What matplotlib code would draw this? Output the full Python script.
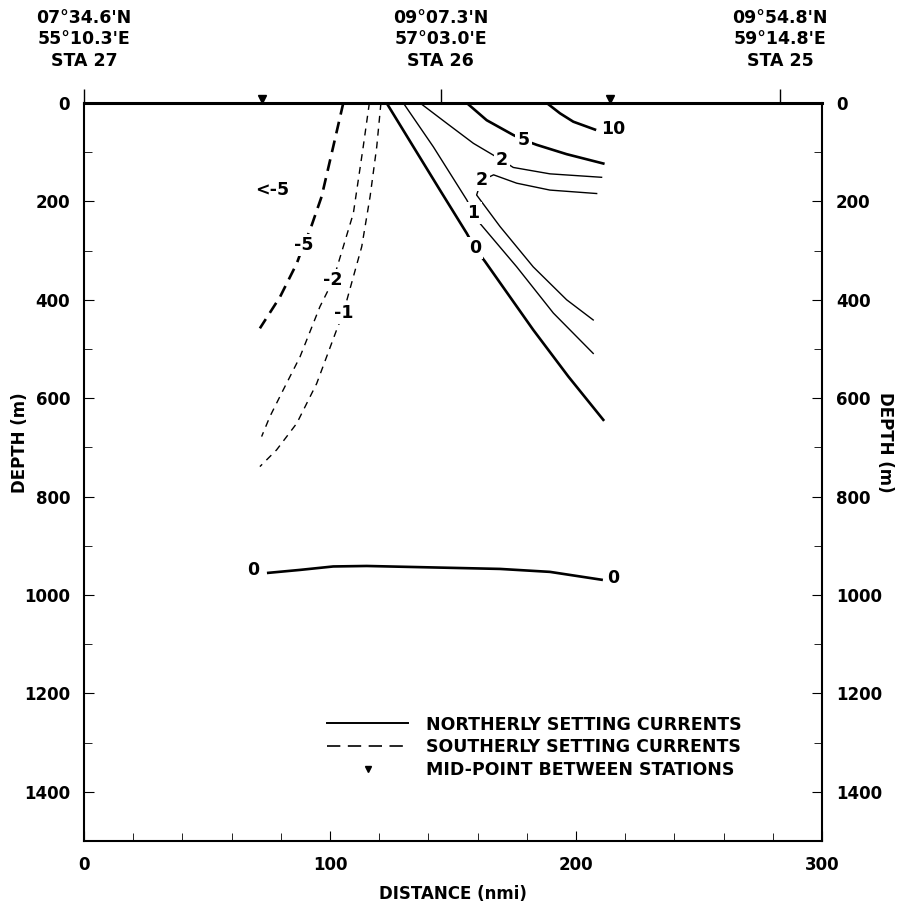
import numpy as np
import matplotlib
matplotlib.use('Agg')
import matplotlib.pyplot as plt
from matplotlib.lines import Line2D
import matplotlib.transforms as mtransforms

plt.rcParams['font.family'] = ['DejaVu Sans']
plt.rcParams['font.weight'] = 'bold'

# station positions (nmi) and header text
sta_dist = [0, 145, 283]
sta_labels = ["07°34.6'N\n55°10.3'E\nSTA 27",
              "09°07.3'N\n57°03.0'E\nSTA 26",
              "09°54.8'N\n59°14.8'E\nSTA 25"]

# northerly (solid) contours: distance (nmi), depth (m)
n0_d = [123, 133.9, 144.7, 155.6, 158.9, 163, 182.6, 196.9, 211.1]
n0_z = [0, 89, 177, 265, 295, 322, 461, 556, 644]
n1_d = [129.8, 142, 155.6, 158.3, 161, 175.9, 190.8, 207]
n1_z = [0, 89, 197, 224, 245, 333, 427, 509]
n2a_d = [136.6, 147.4, 158.3, 166.4, 169.8, 174.5, 189.4, 210.4]
n2a_z = [0, 41, 82, 106, 116, 131, 144, 151]
n2b_d = [208.4, 189.4, 175.9, 166.5, 161.5, 159.6, 169.1, 182.6, 196.2, 207]
n2b_z = [184, 177, 163, 146, 158, 187, 251, 333, 400, 441]
n5_d = [155.6, 163.7, 174.5, 178.6, 184, 196.2, 211.1]
n5_z = [0, 35, 65, 75, 85, 104, 123]
n10_d = [188.1, 193.5, 198.9, 207.7]
n10_z = [0, 21, 38, 54]
deep0_d = [74.9, 87.8, 101.3, 114.9, 142, 169.1, 189.4, 210.4]
deep0_z = [955, 949, 942, 941, 944, 947, 953, 969]

# southerly (dashed) contours
s5_d = [105.4, 101.3, 96.6, 91.9, 89.2, 86.5, 79.7, 71.5]
s5_z = [0, 89, 190, 258, 289, 326, 394, 458]
s2_d = [116, 113.5, 109.5, 101.3, 95.9, 87.8, 81, 75.6, 72.2]
s2_z = [0, 89, 224, 360, 414, 516, 583, 637, 678]
s1_d = [120.7, 119, 116.3, 112.9, 109.5, 105.4, 102.7, 94.6, 86.5, 78.3, 71.5]
s1_z = [0, 89, 190, 292, 353, 427, 461, 570, 651, 705, 739]

# contour labels: text, distance, depth
clabels = [("0", 158.9, 295), ("1", 158.3, 224), ("2", 169.8, 116),
           ("2", 161.7, 157), ("5", 178.6, 75), ("10", 215.2, 52),
           ("-5", 89.2, 289), ("-2", 101.3, 360), ("-1", 105.4, 427),
           ("<-5", 76.3, 177), ("0", 68.8, 949), ("0", 215.2, 966)]

fig = plt.figure(figsize=(9.01, 9.05), dpi=100)
ax = fig.add_axes([84/901, 1-841/905, 738/901, 738/905])

thick = 1.9
thin = 1.0
ax.plot(n0_d, n0_z, 'k-', lw=thick)
ax.plot(n1_d, n1_z, 'k-', lw=thin)
ax.plot(n2a_d, n2a_z, 'k-', lw=thin)
ax.plot(n2b_d, n2b_z, 'k-', lw=thin)
ax.plot(n5_d, n5_z, 'k-', lw=thick)
ax.plot(n10_d, n10_z, 'k-', lw=thick)
ax.plot(deep0_d, deep0_z, 'k-', lw=thick)
ax.plot(s5_d, s5_z, 'k', lw=thick, linestyle=(0, (4.5, 2.8)))
ax.plot(s2_d, s2_z, 'k', lw=thin, linestyle=(0, (5, 4.3)))
ax.plot(s1_d, s1_z, 'k', lw=thin, linestyle=(0, (5, 4.3)))

for txt, d, z in clabels:
    ax.text(d, z, txt, fontsize=12.5, ha='center', va='center',
            bbox=dict(facecolor='white', edgecolor='none', pad=1.5))

# mid-points between stations
mids = [(sta_dist[i] + sta_dist[i+1]) / 2 for i in range(len(sta_dist) - 1)]
tr = mtransforms.offset_copy(ax.transData, fig=fig, x=0, y=3, units='points')
ax.plot(mids, [0]*len(mids), 'kv', ms=6, transform=tr, clip_on=False, zorder=5)

ax.set_xlim(0, 300)
ax.set_ylim(1500, 0)
ax.set_xticks([0, 100, 200, 300])
ax.set_xticks(np.arange(0, 301, 20), minor=True)
ax.set_yticks(np.arange(0, 1401, 200))
ax.set_yticks(np.arange(0, 1501, 100), minor=True)
ax.tick_params(axis='x', which='both', direction='in', top=False,
               labelsize=12, pad=11)
ax.tick_params(axis='x', which='major', length=7)
ax.tick_params(axis='x', which='minor', length=6)
ax.tick_params(axis='y', which='both', direction='in', left=True, right=True,
               labelleft=True, labelright=True, labelsize=12, pad=10)
ax.tick_params(axis='y', which='major', length=7)
ax.tick_params(axis='y', which='minor', length=6)

for s in ['left', 'right', 'bottom']:
    ax.spines[s].set_linewidth(1.5)
ax.spines['top'].set_linewidth(2.2)

ax.set_xlabel('DISTANCE (nmi)', fontsize=12, fontweight='bold', labelpad=8)
ax.text(-0.087, 0.54, 'DEPTH (m)', transform=ax.transAxes, rotation=90,
        fontsize=12, fontweight='bold', ha='center', va='center')
ax.text(1.085, 0.54, 'DEPTH (m)', transform=ax.transAxes, rotation=-90,
        fontsize=12, fontweight='bold', ha='center', va='center')

# station header on top
sec = ax.secondary_xaxis('top')
sec.set_xticks(sta_dist)
sec.set_xticklabels(sta_labels, fontsize=12.5, fontweight='bold', linespacing=1.25)
sec.tick_params(direction='out', length=10, width=1, pad=14)
sec.spines['top'].set_visible(False)

handles = [Line2D([], [], color='k', lw=1.4),
           Line2D([], [], color='k', lw=1.2, linestyle=(0, (8, 4.5))),
           Line2D([], [], color='k', marker='v', ms=5, linestyle='none')]
labels = ['NORTHERLY SETTING CURRENTS', 'SOUTHERLY SETTING CURRENTS',
          'MID-POINT BETWEEN STATIONS']
ax.legend(handles, labels, loc='upper left', bbox_to_anchor=(0.329, 0.170),
          frameon=False, fontsize=12.5, handlelength=4.7, handletextpad=1.0,
          labelspacing=0.27, borderpad=0, borderaxespad=0)

fig.savefig('out.png', dpi=100)
